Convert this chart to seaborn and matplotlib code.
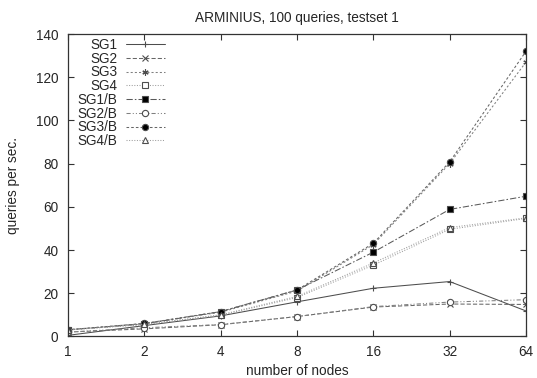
import matplotlib
matplotlib.use("Agg")
import matplotlib.pyplot as plt
import seaborn as sns
import pandas as pd

# data
nodes = [1, 2, 4, 8, 16, 32, 64]
series = ["SG1", "SG2", "SG3", "SG4", "SG1/B", "SG2/B", "SG3/B", "SG4/B"]
sg1 = [0.5, 5.0, 9.5, 16.0, 22.3, 25.4, 11.8]
sg2 = [2.0, 3.5, 5.4, 9.2, 13.6, 15.0, 14.8]
sg3 = [3.0, 6.0, 11.2, 21.0, 42.5, 80.0, 127.0]
sg4 = [3.0, 5.5, 9.8, 18.0, 33.0, 49.6, 54.6]
sg1b = [3.1, 5.8, 11.5, 21.5, 39.0, 58.8, 64.9]
sg2b = [2.0, 4.0, 5.5, 9.2, 13.8, 15.9, 17.0]
sg3b = [3.1, 6.0, 11.5, 21.5, 43.1, 80.8, 132.0]
sg4b = [3.0, 5.6, 10.0, 18.5, 34.0, 50.4, 54.9]
values = [sg1, sg2, sg3, sg4, sg1b, sg2b, sg3b, sg4b]

yticks = [0, 20, 40, 60, 80, 100, 120, 140]

rows = []
for name, vals in zip(series, values):
    for n, v in zip(nodes, vals):
        rows.append({"nodes": n, "qps": v, "series": name})
df = pd.DataFrame(rows)

sns.set_style("ticks")
plt.rcParams["font.family"] = ["Liberation Sans", "DejaVu Sans"]
fs = 9.8

# gnuplot-ish styles
markers = {"SG1": "+", "SG2": "x", "SG3": (6, 2, 0), "SG4": "s",
           "SG1/B": "s", "SG2/B": "o", "SG3/B": "o", "SG4/B": "^"}
dashes = {"SG1": "", "SG2": (4, 2), "SG3": (2, 2), "SG4": (1, 1.5),
          "SG1/B": (6, 2, 1.5, 2), "SG2/B": (4, 2, 1, 2, 1, 2),
          "SG3/B": (2.5, 2), "SG4/B": (1, 1.5)}
facecol = {"SG1": "0.25", "SG2": "0.35", "SG3": "0.35", "SG4": "white",
           "SG1/B": "black", "SG2/B": "white", "SG3/B": "black", "SG4/B": "white"}
linecol = {"SG1": "0.3", "SG2": "0.4", "SG3": "0.5", "SG4": "0.62",
           "SG1/B": "0.35", "SG2/B": "0.5", "SG3/B": "0.4", "SG4/B": "0.62"}

fig, ax = plt.subplots(figsize=(5.37, 3.78), dpi=100)
fig.subplots_adjust(left=0.1266, right=0.9795, top=0.91, bottom=0.11)

for name in series:
    sub = df[df["series"] == name]
    sns.lineplot(data=sub, x="nodes", y="qps", ax=ax, label=name,
                 color=linecol[name], linewidth=0.75,
                 marker=markers[name], markersize=4.5,
                 markerfacecolor=facecol[name], markeredgecolor="0.3",
                 markeredgewidth=0.8)
    if dashes[name]:
        ax.lines[-1].set_dashes(dashes[name])

ax.set_xscale("log", base=2)
ax.set_xticks(nodes)
ax.set_xticklabels([str(n) for n in nodes])
ax.minorticks_off()
ax.set_xlim(1, 64)
ax.set_ylim(0, 140)
ax.set_yticks(yticks)

ax.tick_params(direction="in", top=True, right=True, labelsize=fs,
               length=4, width=0.8, color="0.2")
ax.tick_params(axis="x", pad=6)
ax.tick_params(axis="y", pad=7)
for s in ax.spines.values():
    s.set_linewidth(0.9)
    s.set_color("0.2")

ax.set_xlabel("number of nodes", fontsize=fs, labelpad=3.5)
ax.set_ylabel("queries per sec.", fontsize=fs, labelpad=11)
ax.set_title("ARMINIUS, 100 queries, testset 1", fontsize=fs, pad=9)

ax.legend(loc="upper right", frameon=False, markerfirst=False, fontsize=fs,
          handlelength=2.9, handletextpad=0.6, labelspacing=-0.02,
          borderaxespad=0, borderpad=0, bbox_to_anchor=(0.212, 0.987))

plt.savefig("out.png", dpi=100)
